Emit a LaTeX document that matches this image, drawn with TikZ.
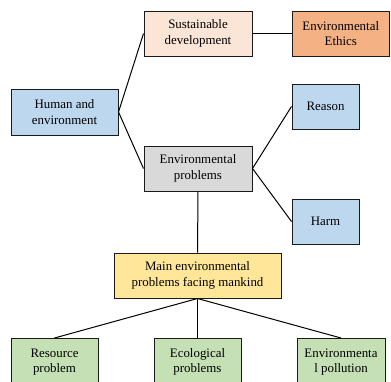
\documentclass[tikz,border=0pt]{standalone}
\usepackage{fontspec}
\setmainfont{Liberation Serif}
\definecolor{peach}{HTML}{FBE5D6}
\definecolor{orangeb}{HTML}{F4B183}
\definecolor{blueb}{HTML}{BDD7EE}
\definecolor{grayb}{HTML}{D9D9D9}
\definecolor{yellowb}{HTML}{FFE699}
\definecolor{greenb}{HTML}{C5E0B4}
\definecolor{edge}{HTML}{1A1A1A}
\begin{document}
\begin{tikzpicture}[x=1pt,y=-1pt,
  box/.style={draw=edge,line width=1pt,align=center,inner sep=0pt,
    font=\fontsize{12.9}{15.5}\selectfont,text=black},
  conn/.style={draw=black,line width=1pt}]
\useasboundingbox (0,0) rectangle (391,381);
\clip (0,0) rectangle (391,381);
\fill[white] (0,0) rectangle (391,381);
% boxes
\node[box,fill=blueb,minimum width=107pt,minimum height=46pt] (human) at (64.5,112) {Human and\\environment};
\node[box,fill=peach,minimum width=108pt,minimum height=45pt] (sust) at (198,33.5) {Sustainable\\development};
\node[box,fill=orangeb,minimum width=97.5pt,minimum height=45pt] (ethics) at (340.75,33.5) {Environmental\\Ethics};
\node[box,fill=grayb,minimum width=108pt,minimum height=45pt] (envp) at (198,168.5) {Environmental\\problems};
\node[box,fill=blueb,minimum width=67pt,minimum height=45pt] (reason) at (325.5,106.5) {Reason};
\node[box,fill=blueb,minimum width=67pt,minimum height=45pt] (harm) at (325.5,221.5) {Harm};
\node[box,fill=yellowb,minimum width=167pt,minimum height=45pt] (main) at (197.5,275.5) {Main environmental\\problems facing mankind};
\node[box,fill=greenb,minimum width=87pt,minimum height=47pt,anchor=north] (res) at (54.5,338) {Resource\\problem};
\node[box,fill=greenb,minimum width=87pt,minimum height=47pt,anchor=north] (eco) at (197.5,338) {Ecological\\problems};
\node[box,fill=greenb,minimum width=88pt,minimum height=47pt,anchor=north] (pol) at (341,338) {Environmenta\\l pollution};
% connectors
\draw[conn] (human.east) -- (sust.west);
\draw[conn] (human.east) -- (envp.west);
\draw[conn] (sust.east) -- (ethics.west);
\draw[conn] (envp.east) -- (reason.west);
\draw[conn] (envp.east) -- (harm.west);
\draw[conn] (envp.south) -- (main.north);
\draw[conn] (main.south) -- (res.north);
\draw[conn] (main.south) -- (eco.north);
\draw[conn] (main.south) -- (pol.north);
\end{tikzpicture}
\end{document}
